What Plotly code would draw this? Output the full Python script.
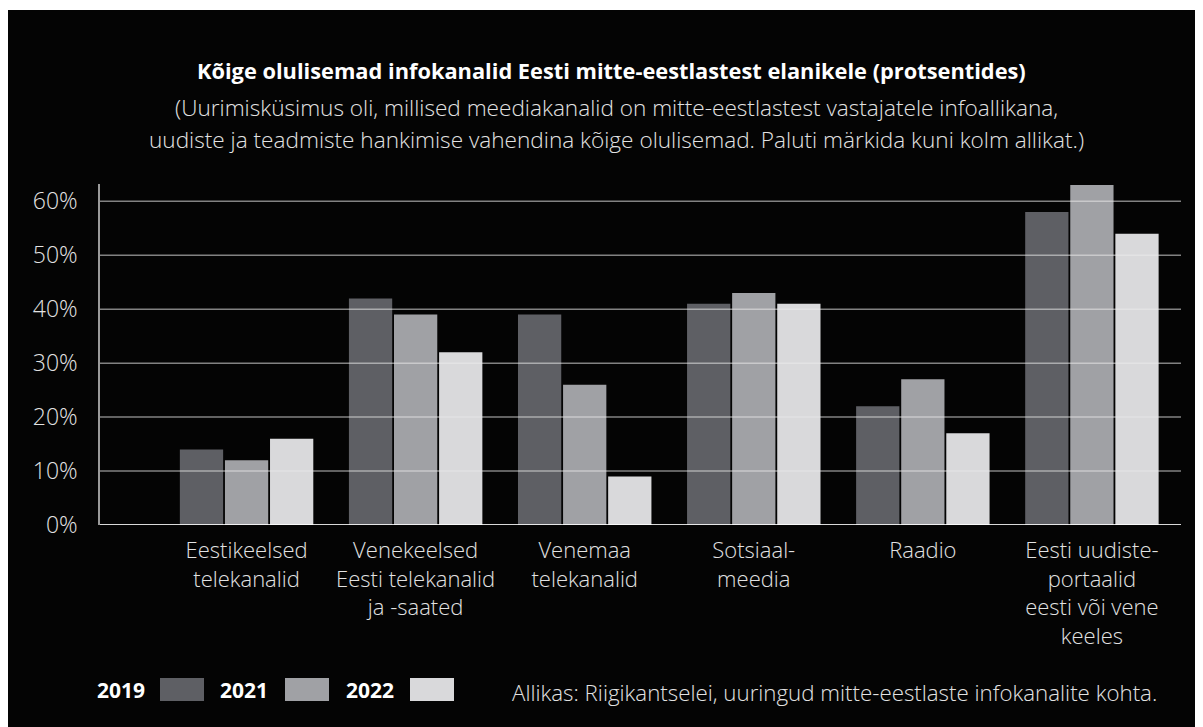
import plotly.graph_objects as go

categories = [
    "Eestikeelsed<br>telekanalid",
    "Venekeelsed<br>Eesti telekanalid<br>ja -saated",
    "Venemaa<br>telekanalid",
    "Sotsiaal-<br>meedia",
    "Raadio",
    "Eesti uudiste-<br>portaalid<br>eesti või vene<br>keeles",
]
years = ["2019", "2021", "2022"]
v2019 = [14, 42, 39, 41, 22, 58]
v2021 = [12, 39, 26, 43, 27, 63]
v2022 = [16, 32, 9, 41, 17, 54]
series = [v2019, v2021, v2022]
colors = ["#5e5f64", "#a0a1a5", "#d9d9db"]
y_ticks = [0, 10, 20, 30, 40, 50, 60]
y_ticktext = ["0%", "10%", "20%", "30%", "40%", "50%", "60%"]

title = "Kõige olulisemad infokanalid Eesti mitte-eestlastest elanikele (protsentides)"
subtitle_lines = [
    "(Uurimisküsimus oli, millised meediakanalid on mitte-eestlastest vastajatele infoallikana,",
    "uudiste ja teadmiste hankimise vahendina kõige olulisemad. Paluti märkida kuni kolm allikat.)",
]
source = "Allikas: Riigikantselei, uuringud mitte-eestlaste infokanalite kohta."

OFF = 8  # page body margin
W, H = 1203, 727
L, R, T, B = 100 - OFF, W - (1181 - OFF), 184 - OFF, H - (525 - OFF)
PW, PH = W - L - R, H - T - B

def px(x):  # screen pixel -> paper x
    return (x - OFF - L) / PW

def py(y):  # screen pixel -> paper y
    return (H - B - (y - OFF)) / PH

FONT = "Open Sans"
TXT = "#e2e2e2"
x_idx = list(range(len(categories)))

fig = go.Figure()
for name, vals, col in zip(years, series, colors):
    fig.add_trace(go.Bar(x=x_idx, y=vals, name=name, marker=dict(color=col, line_width=0),
                         showlegend=False))

shapes = []
shapes.append(dict(type="rect", xref="paper", yref="paper", x0=px(0), x1=px(W + 20),
                   y0=py(H + 20), y1=py(10), fillcolor="#040404", line_width=0, layer="below"))
for t in y_ticks:
    shapes.append(dict(type="line", xref="paper", yref="y", x0=0, x1=1, y0=t, y1=t,
                       line=dict(color="rgba(255,255,255,0.85)" if t == 0 else "rgba(235,235,235,0.55)",
                                 width=2 if t == 0 else 1.5), layer="above"))

annotations = [
    dict(text="<b>" + title + "</b>", x=px(611), y=py(70), xref="paper", yref="paper",
         xanchor="center", yanchor="middle", showarrow=False,
         font=dict(family=FONT, size=21.8, color="#ffffff")),
    dict(text=source, x=px(510), y=py(692), xref="paper", yref="paper", xanchor="left",
         yanchor="middle", showarrow=False,
         font=dict(family=FONT, size=22.3, color=TXT, weight=300)),
]
for line, yy in zip(subtitle_lines, [108, 140]):
    annotations.append(dict(text=line, x=px(616), y=py(yy), xref="paper", yref="paper",
                            xanchor="center", yanchor="middle", showarrow=False,
                            font=dict(family=FONT, size=22.6, color=TXT, weight=300)))
leg_text_x = [121, 244, 370]
leg_sw = [(160, 204), (285, 329), (410, 454)]
for name, col, tx, (s0, s1) in zip(years, colors, leg_text_x, leg_sw):
    annotations.append(dict(text="<b>" + name + "</b>", x=px(tx), y=py(690), xref="paper", yref="paper",
                            xanchor="center", yanchor="middle", showarrow=False,
                            font=dict(family=FONT, size=21, color="#ffffff")))
    shapes.append(dict(type="rect", xref="paper", yref="paper", x0=px(s0), x1=px(s1),
                       y0=py(701), y1=py(678), fillcolor=col, line_width=0))

fig.update_layout(
    width=W, height=H,
    margin=dict(l=L, r=R, t=T, b=B),
    paper_bgcolor="#ffffff", plot_bgcolor="rgba(0,0,0,0)",
    barmode="group", bargap=0.2, bargroupgap=0.04,
    shapes=shapes, annotations=annotations,
    xaxis=dict(range=[-0.867, 5.527], tickvals=x_idx, ticktext=categories, showgrid=False,
               zeroline=False, showline=False, ticks="", ticklabelstandoff=10,
               tickfont=dict(family=FONT, size=22, color=TXT, weight=300)),
    yaxis=dict(range=[0, 63.2], tickvals=y_ticks, ticktext=y_ticktext, showgrid=False, zeroline=False,
               showline=True, linecolor="#9a9a9a", linewidth=1.5, ticks="", ticklabelstandoff=16,
               tickfont=dict(family=FONT, size=23, color=TXT, weight=300)),
)

fig.write_html("out.html")
